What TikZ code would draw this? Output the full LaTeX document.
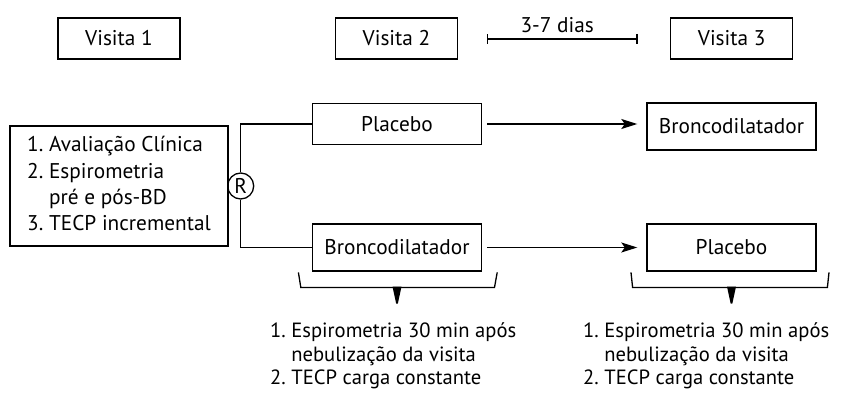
\documentclass[tikz,border=0pt]{standalone}
\usepackage{fontspec}
\setmainfont{PT Sans}
\usetikzlibrary{arrows.meta}

\begin{document}
\begin{tikzpicture}[x=1pt,y=-1pt,
		 caixa/.style={draw, line width=1.4pt, inner sep=0pt,
		 	minimum width=169pt, minimum height=47pt},
		 visita/.style={caixa, minimum width=122pt, minimum height=41pt},
		 seta/.style={line width=1.3pt, -{Stealth[length=16pt,width=10pt,inset=3.5pt]},
		 	shorten <=5pt, shorten >=9pt},
		 liga/.style={line width=1.3pt},
		 chave/.style={line width=1.3pt},
		 font=\fontsize{21.3}{26.3}\selectfont]
		 %\draw[help lines] (0,0) grid[step=20] (860,393);
		 \useasboundingbox (0,0) rectangle (860,393);
		 
		 \node[visita] (v1) at (119,38.5) {Visita 1};
		 \node[visita] (v2) at (396.5,38.5) {Visita 2};
		 \node[visita] (v3) at (731.7,38.5) {Visita 3};
		 
		 \coordinate (d1) at (486.7,39);
		 \coordinate (d2) at (637.7,39);
		 \draw[liga, {Bar[width=10pt]}-{Bar[width=10pt]}] (d1) -- (d2)
		 	node[midway, above=2pt, xshift=-5pt] {3-7 dias};
		 
		 \node[draw, line width=1.4pt, minimum width=218pt, minimum height=120pt,
		 	inner sep=0pt] (inicio) at (119,186)
		 	{\begin{tabular}{@{}l@{~}l@{}}
		 	1.&Avaliação Clínica\\
		 	2.&Espirometria\\
		 	  &pré e pós-BD\\
		 	3.&TECP incremental
		 	\end{tabular}};
		 
		 \node[draw, circle, line width=1.3pt, minimum size=26pt, inner sep=0pt]
		 	(r) at (240.7,186) {R};
		 
		 \node[caixa, minimum height=41pt] (p1) at (397,124) {Placebo};
		 \node[caixa] (b1) at (731.5,126.5) {Broncodilatador};
		 \node[caixa] (b2) at (397,247.5) {Broncodilatador};
		 \node[caixa] (p2) at (731.5,247.5) {Placebo};
		 
		 \draw[liga] (r.north) |- (p1.west);
		 \draw[liga] (r.south) |- (b2.west);
		 \draw[seta] (p1.east) -- (p1.east -| b1.west);
		 \draw[seta] (b2.east) -- (p2.west);
		 
		 % chaves
		 \draw[chave] ([xshift=-13.4pt,yshift=-0.7pt]b2.south west)
		 	-- ++(2.4,15) -- ([xshift=12.3pt,yshift=-15.7pt]b2.south east)
		 	-- ++(2.7,-15);
		 \fill ([xshift=-4.5pt,yshift=-15pt]b2.south) -- ([xshift=4.5pt,yshift=-15pt]b2.south)
		 	-- ([xshift=0.8pt,yshift=-32pt]b2.south) -- ([xshift=-0.8pt,yshift=-32pt]b2.south) -- cycle;
		 \draw[chave] ([xshift=-15.3pt,yshift=-0.7pt]p2.south west)
		 	-- ++(1.6,15) -- ([xshift=10.7pt,yshift=-15.7pt]p2.south east)
		 	-- ++(1.6,-15);
		 \fill ([xshift=-4.5pt,yshift=-15pt]p2.south) -- ([xshift=4.5pt,yshift=-15pt]p2.south)
		 	-- ([xshift=0.8pt,yshift=-32pt]p2.south) -- ([xshift=-0.8pt,yshift=-32pt]p2.south) -- cycle;
		 
		 \node[anchor=north west, inner sep=0pt, font=\fontsize{20.6}{23.5}\selectfont]
		 	(lista1) at (270,321)
		 	{\begin{tabular}{@{}l@{~}l@{}}
		 	1.&Espirometria 30 min após\\
		 	  &nebulização da visita\\
		 	2.&TECP carga constante
		 	\end{tabular}};
		 \node[anchor=north west, inner sep=0pt, font=\fontsize{20.6}{23.5}\selectfont]
		 	(lista2) at (583,321)
		 	{\begin{tabular}{@{}l@{~}l@{}}
		 	1.&Espirometria 30 min após\\
		 	  &nebulização da visita\\
		 	2.&TECP carga constante
		 	\end{tabular}};
		 \end{tikzpicture}
\end{document}
